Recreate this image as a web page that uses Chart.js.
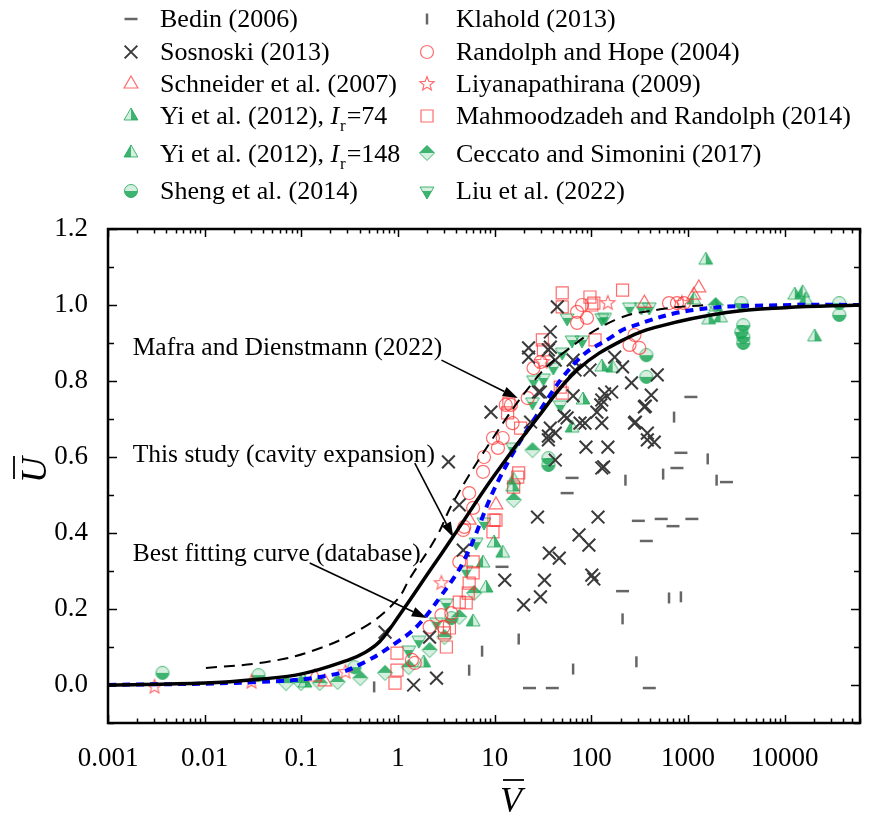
<!DOCTYPE html>
<html>
<head>
<meta charset="utf-8">
<script src="https://cdn.jsdelivr.net/npm/chart.js@4.4.1/dist/chart.umd.min.js"></script>
<style>
  body { margin: 0; background: #fff; }
  #wrap { width: 871px; height: 816px; position: relative; }
</style>
</head>
<body>
<div id="wrap"><canvas id="myChart"></canvas></div>
<script>
// ---- data: [V, U] ----
var bedin = [[1069,0.758],[843,0.611],[767,0.571],[2495,0.534],[63.1,0.545],[56.1,0.505],[306,0.432],[527,0.437],[698,0.418],[1094,0.437],[370,0.379],[11.9,0.311],[210,0.247],[22.9,-0.008],[39.4,-0.008],[397,-0.008]];
var klahold = [[716,0.705],[1596,0.595],[552,0.555],[225,0.539],[1972,0.539],[635,0.229],[843,0.232],[210,0.174],[17.7,0.121],[7.40,0.089],[5.44,0.039],[64.7,0.042],[292,0.061],[0.566,-0.005]];
var sosnoski = [[9.14,0.718],[3.32,0.587],[4.30,0.474],[4.73,0.355],[27.7,0.442],[117,0.442],[74.5,0.395],[94.2,0.368],[36.7,0.347],[46.5,0.334],[12.7,0.276],[32.7,0.276],[106,0.279],[29.7,0.232],[19.9,0.211],[2.50,0.018],[1.45,0.0],[0.734,0.139],[2.12,0.126],[134,0.574],[87.9,0.626],[148,0.626],[35.9,0.655],[42.3,0.592],[76.2,0.689],[128,0.689],[285,0.692],[416,0.763],[361,0.734],[379,0.645],[447,0.639],[125,0.737],[137,0.766],[52.3,0.708],[37.6,0.676],[28.3,0.771],[64.7,0.761],[260,0.795],[44.4,0.995],[37.6,0.929],[37.6,0.889],[42.3,0.855],[64.7,0.855],[67.8,0.829],[96.6,0.829],[174,0.863],[210,0.837],[480,0.816],[162,0.771],[128,0.750],[114,0.718],[353,0.732],[279,0.689],[85.8,0.689],[56.1,0.703],[42.3,0.663],[379,0.663],[22.4,0.887],[22.4,0.863],[35.9,0.882],[29.7,0.771],[23.5,0.692],[35.9,0.645],[128,0.571],[101,0.289]];
var randolph = [[13.0,0.737],[9.59,0.650],[12.1,0.650],[10.8,0.624],[7.75,0.600],[7.57,0.561],[5.44,0.505],[5.98,0.466],[4.73,0.408],[4.30,0.324],[2.81,0.184],[2.95,0.153],[71.1,0.982],[80.0,1.0],[25.2,0.834],[21.9,0.755],[14.7,0.737],[15.3,0.689],[4.84,0.416],[71.1,0.953],[279,0.921],[248,0.895],[313,0.887],[635,1.005],[767,1.005],[906,1.005],[29.7,0.850],[2.12,0.153],[3.56,0.189],[1.49,0.058],[1.39,0.066],[90,0.966]];
var schneider = [[0.138,0.021],[0.175,0.008],[1291,1.045],[1146,1.026],[10.3,0.474],[353,1.005],[5.44,0.434]];
var liyana = [[0.00303,-0.005],[0.0305,0.008],[0.286,0.034],[2.81,0.268],[148,1.005],[31.1,0.850],[863,1.005]];
var mahmood = [[31.1,0.908],[31.9,0.882],[14.0,0.742],[13.6,0.716],[49.9,1.032],[49.9,0.995],[96.6,1.021],[101,1.0],[18.5,0.676],[17.7,0.558],[10.3,0.434],[5.98,0.324],[17.3,0.547],[15.7,0.521],[9.82,0.434],[9.59,0.403],[5.98,0.295],[4.30,0.218],[3.40,0.150],[3.16,0.100],[210,1.039],[47.6,0.784],[49.9,0.768],[109,0.908],[0.975,0.084],[0.93,0.005],[0.975,0.039],[3.02,0.137],[5.07,0.216],[5.32,0.242],[5.44,0.268],[106,1.005]];
var yi74 = [[1521,1.118],[12680,1.026],[1928,0.995],[1633,0.961],[20320,0.916],[128,0.837],[81.8,0.750],[15.3,0.521],[9.82,0.374],[8.13,0.255],[0.109,0.005],[1.84,0.058]];
var yi148 = [[15310,1.032],[16440,1.013],[2167,0.966],[1146,1.013],[166,0.834],[63.1,0.676],[12.1,0.347],[7.57,0.321],[5.98,0.166],[15.7,0.539]];
var sheng = [[0.00366,0.032],[0.036,0.026],[0.354,0.047],[3.56,0.176],[3555,1.005],[3724,0.947],[3555,0.929],[3724,0.916],[3724,0.900],[36640,1.005],[36640,0.974],[370,0.868],[370,0.811],[35.9,0.597],[35.9,0.579]];
var ceccato = [[0.0695,0.005],[0.099,0.005],[0.155,0.005],[0.237,0.008],[0.407,0.018],[0.734,0.032],[1.29,0.047],[2.12,0.092],[3.02,0.126],[4.30,0.179],[6.12,0.242],[15.7,0.487],[24.6,0.618],[1928,1.0]];
var liu = [[248,0.995],[329,0.995],[397,0.995],[56.1,0.966],[80.0,0.908],[49.9,0.876],[128,0.966],[40.4,0.837],[31.9,0.808],[47.6,0.737],[24.6,0.745],[25.2,0.803],[63.1,0.908],[137,0.968],[15.3,0.626],[7.75,0.429],[5.07,0.303],[6.42,0.376],[3.16,0.216],[1.29,0.092],[1.64,0.118],[2.50,0.166]];

// curves
var thisStudy = [[0.001,0],[0.01,0.005],[0.036,0.015],[0.104,0.03],[0.30,0.065],[0.45,0.085],[0.65,0.115],[1.04,0.185],[2.12,0.30],[3.7,0.39],[9.6,0.547],[28,0.705],[72,0.83],[220,0.91],[527,0.945],[2495,0.98],[10000,0.993],[60000,1.0]];
var mafra = [[0.0103,0.045],[0.0424,0.06],[0.138,0.092],[0.45,0.153],[0.975,0.224],[1.32,0.28],[2.5,0.39],[3.7,0.48],[9.6,0.65],[24.6,0.795],[45,0.863],[174,0.96],[560,0.99],[1500,1.0]];
var bestFit = [[0.001,0],[0.036,0.008],[0.2,0.026],[0.45,0.06],[0.975,0.113],[1.55,0.153],[2.7,0.23],[4.84,0.329],[11,0.54],[28.3,0.716],[72,0.855],[162,0.916],[236,0.94],[1146,0.987],[11800,1.0],[60000,1.0]];

var xTicks = [0.001, 0.01, 0.1, 1, 10, 100, 1000, 10000];
var xTickLabels = ['0.001', '0.01', '0.1', '1', '10', '100', '1000', '10000'];
var yTicks = [0, 0.2, 0.4, 0.6, 0.8, 1.0, 1.2];
var yTickLabels = ['0.0', '0.2', '0.4', '0.6', '0.8', '1.0', '1.2'];

var seriesNames = ['Bedin (2006)', 'Klahold (2013)', 'Sosnoski (2013)', 'Randolph and Hope (2004)',
  'Schneider et al. (2007)', 'Liyanapathirana (2009)', 'Yi et al. (2012), {I}{r}=74',
  'Mahmoodzadeh and Randolph (2014)', 'Yi et al. (2012), {I}{r}=148', 'Ceccato and Simonini (2017)',
  'Sheng et al. (2014)', 'Liu et al. (2022)'];
var curveNames = ['This study (cavity expansion)', 'Mafra and Dienstmann (2022)', 'Best fitting curve (database)'];

var SERIF = '"Liberation Serif", "Times New Roman", serif';
var RED = 'rgba(255,45,45,0.7)';
var GREEN = 'rgba(25,165,85,0.8)';
var GREEN_LIGHT = 'rgba(25,165,85,0.18)';

function toXY(arr) { return arr.map(function (p) { return {x: p[0], y: p[1]}; }); }

// little canvases for the half-filled / star markers
function marker(size, draw) {
  var c = document.createElement('canvas');
  c.width = size; c.height = size;
  var g = c.getContext('2d');
  draw(g, size / 2);
  return c;
}
function poly(g, pts) {
  g.beginPath(); g.moveTo(pts[0][0], pts[0][1]);
  for (var i = 1; i < pts.length; i++) g.lineTo(pts[i][0], pts[i][1]);
  g.closePath();
}
function halfTri(leftFilled) {
  return marker(20, function (g, c) {
    var r = 8, top = [c, c - r], bl = [c - r * 0.866, c + r / 2], br = [c + r * 0.866, c + r / 2], bm = [c, c + r / 2];
    poly(g, [top, bl, br]); g.fillStyle = GREEN_LIGHT; g.fill();
    poly(g, leftFilled ? [top, bl, bm] : [top, bm, br]); g.fillStyle = GREEN; g.fill();
    poly(g, [top, bl, br]); g.strokeStyle = GREEN; g.lineWidth = 1; g.stroke();
  });
}
var ptYi74 = halfTri(false);
var ptYi148 = halfTri(true);
var ptSheng = marker(16, function (g, c) {
  var r = 6.5;
  g.beginPath(); g.arc(c, c, r, 0, Math.PI); g.closePath(); g.fillStyle = GREEN; g.fill();
  g.beginPath(); g.arc(c, c, r, 0, Math.PI * 2); g.fillStyle = GREEN_LIGHT; g.fill();
  g.strokeStyle = GREEN; g.lineWidth = 1; g.stroke();
});
var ptCeccato = marker(18, function (g, c) {
  var r = 7.5;
  poly(g, [[c, c - r], [c + r, c], [c, c + r], [c - r, c]]); g.fillStyle = GREEN_LIGHT; g.fill();
  poly(g, [[c, c - r], [c + r, c], [c - r, c]]); g.fillStyle = GREEN; g.fill();
  poly(g, [[c, c - r], [c + r, c], [c, c + r], [c - r, c]]); g.strokeStyle = GREEN; g.lineWidth = 1; g.stroke();
});
var ptLiu = marker(20, function (g, c) {
  var r = 8;
  var tl = [c - r * 0.866, c - r / 2], tr = [c + r * 0.866, c - r / 2], tip = [c, c + r];
  poly(g, [tl, tr, tip]); g.fillStyle = GREEN_LIGHT; g.fill();
  poly(g, [[c - r * 0.577, c], [c + r * 0.577, c], tip]); g.fillStyle = GREEN; g.fill();
  poly(g, [tl, tr, tip]); g.strokeStyle = GREEN; g.lineWidth = 1; g.stroke();
});
var ptStar = marker(18, function (g, c) {
  var pts = [];
  for (var i = 0; i < 10; i++) {
    var rr = i % 2 === 0 ? 7.5 : 3.2;
    var a = -Math.PI / 2 + i * Math.PI / 5;
    pts.push([c + rr * Math.cos(a), c + rr * Math.sin(a)]);
  }
  poly(g, pts); g.strokeStyle = RED; g.lineWidth = 1.1; g.stroke();
});

function scatterSet(name, arr, style) {
  return Object.assign({
    label: name, data: toXY(arr), showLine: false, order: 1,
    backgroundColor: 'rgba(0,0,0,0)', pointBorderWidth: 1.2, pointRotation: 0
  }, style);
}

var datasets = [
  {label: curveNames[0], data: toXY(thisStudy), showLine: true, pointRadius: 0, borderColor: '#000', borderWidth: 3.5, tension: 0.4, order: 0},
  {label: curveNames[1], data: toXY(mafra), showLine: true, pointRadius: 0, borderColor: '#000', borderWidth: 2, borderDash: [11, 7], tension: 0.4, order: 0},
  {label: curveNames[2], data: toXY(bestFit), showLine: true, pointRadius: 0, borderColor: '#0000ff', borderWidth: 4, borderDash: [8, 6], tension: 0.4, order: 0},
  scatterSet(seriesNames[0], bedin, {pointStyle: 'line', pointRadius: 6.5, borderColor: '#666', pointBorderWidth: 2.5}),
  scatterSet(seriesNames[1], klahold, {pointStyle: 'line', pointRadius: 5.5, pointRotation: 90, borderColor: '#666', pointBorderWidth: 2.5}),
  scatterSet(seriesNames[2], sosnoski, {pointStyle: 'crossRot', pointRadius: 9, borderColor: '#3a3a3a', pointBorderWidth: 2}),
  scatterSet(seriesNames[3], randolph, {pointStyle: 'circle', pointRadius: 6.5, borderColor: RED}),
  scatterSet(seriesNames[4], schneider, {pointStyle: 'triangle', pointRadius: 8, borderColor: RED}),
  scatterSet(seriesNames[5], liyana, {pointStyle: ptStar, pointRadius: 7, borderColor: RED}),
  scatterSet(seriesNames[6], yi74, {pointStyle: ptYi74, pointRadius: 8, borderColor: GREEN}),
  scatterSet(seriesNames[7], mahmood, {pointStyle: 'rect', pointRadius: 8.5, borderColor: RED}),
  scatterSet(seriesNames[8], yi148, {pointStyle: ptYi148, pointRadius: 8, borderColor: GREEN}),
  scatterSet(seriesNames[9], ceccato, {pointStyle: ptCeccato, pointRadius: 8, borderColor: GREEN}),
  scatterSet(seriesNames[10], sheng, {pointStyle: ptSheng, pointRadius: 7, borderColor: GREEN}),
  scatterSet(seriesNames[11], liu, {pointStyle: ptLiu, pointRadius: 8, borderColor: GREEN})
];

// legend drawn by hand: two columns like the original
function richText(ctx, str, x, y, size) {
  var parts = str.split(/(\{I\}|\{r\})/);
  parts.forEach(function (p) {
    if (!p) return;
    if (p === '{I}') { ctx.font = 'italic ' + size + 'px ' + SERIF; ctx.fillText('I', x, y); x += ctx.measureText('I').width + 1; }
    else if (p === '{r}') { ctx.font = (size * 0.65) + 'px ' + SERIF; ctx.fillText('r', x, y + 7); x += ctx.measureText('r').width + 1; }
    else { ctx.font = size + 'px ' + SERIF; ctx.fillText(p, x, y); x += ctx.measureText(p).width; }
  });
}

function arrow(ctx, x0, y0, x1, y1) {
  var a = Math.atan2(y1 - y0, x1 - x0), L = 15, W = 5;
  ctx.beginPath(); ctx.moveTo(x0, y0);
  ctx.lineTo(x1 - L * Math.cos(a), y1 - L * Math.sin(a)); ctx.stroke();
  ctx.beginPath();
  ctx.moveTo(x1, y1);
  ctx.lineTo(x1 - L * Math.cos(a) + W * Math.sin(a), y1 - L * Math.sin(a) - W * Math.cos(a));
  ctx.lineTo(x1 - L * Math.cos(a) - W * Math.sin(a), y1 - L * Math.sin(a) + W * Math.cos(a));
  ctx.closePath(); ctx.fill();
}

// annotation anchors in data units: [textV, textU, arrowFromV, arrowFromU, arrowToV, arrowToU]
var notes = [
  [0.0018, 0.885, 2.81, 0.855, 17.3, 0.755],
  [0.0018, 0.605, 1.49, 0.584, 3.73, 0.389],
  [0.0018, 0.345, 0.122, 0.321, 1.98, 0.176]
];
var noteNames = [curveNames[1], curveNames[0], curveNames[2]];

var decor = {
  id: 'decor',
  afterDraw: function (chart) {
    var ctx = chart.ctx, a = chart.chartArea, x = chart.scales.x, y = chart.scales.y;
    ctx.save();
    ctx.strokeStyle = '#000'; ctx.fillStyle = '#000';
    // inward ticks, all four sides
    ctx.lineWidth = 1.5;
    function seg(x0, y0, x1, y1) { ctx.beginPath(); ctx.moveTo(x0, y0); ctx.lineTo(x1, y1); ctx.stroke(); }
    for (var d = -3; d <= 4; d++) {
      for (var k = 1; k <= 9; k++) {
        var v = k * Math.pow(10, d);
        if (v > x.max) break;
        var px = Math.round(x.getPixelForValue(v)) + 0.5, len = k === 1 ? 8 : 4.5;
        seg(px, a.bottom, px, a.bottom - len);
        seg(px, a.top, px, a.top + len);
      }
    }
    for (var t = -1; t <= 12; t++) {
      var py = Math.round(y.getPixelForValue(t / 10)) + 0.5, ln = t % 2 === 0 ? 9 : 6;
      seg(a.left, py, a.left + ln, py);
      seg(a.right, py, a.right - ln, py);
    }
    ctx.lineWidth = 2.5;
    ctx.strokeRect(a.left, a.top, a.right - a.left, a.bottom - a.top);

    // axis titles with overbars
    ctx.font = 'italic 36px ' + SERIF;
    ctx.textBaseline = 'alphabetic'; ctx.textAlign = 'center';
    var xc = 511, xb = 812;
    ctx.fillText('V', xc, xb);
    ctx.lineWidth = 1.8;
    seg(xc - 8, xb - 32, xc + 13, xb - 32);
    ctx.save();
    ctx.translate(46, 470); ctx.rotate(-Math.PI / 2);
    ctx.fillText('U', 0, 0);
    seg(-9, -32, 14, -32);
    ctx.restore();

    // annotations
    ctx.textAlign = 'left'; ctx.textBaseline = 'middle';
    ctx.font = '25.5px ' + SERIF;
    ctx.lineWidth = 1.6;
    notes.forEach(function (n, i) {
      ctx.fillText(noteNames[i], x.getPixelForValue(n[0]), y.getPixelForValue(n[1]));
      arrow(ctx, x.getPixelForValue(n[2]), y.getPixelForValue(n[3]), x.getPixelForValue(n[4]), y.getPixelForValue(n[5]));
    });

    // legend
    var colMark = [131, 427], colText = [160, 456];
    var rowMark = [19, 52, 84, 116, 153, 191];
    var rowBase = [27, 60, 92, 124, 162, 199];
    ctx.textBaseline = 'alphabetic';
    for (var i = 0; i < seriesNames.length; i++) {
      var col = i % 2, row = Math.floor(i / 2);
      var ds = chart.data.datasets[i + 3];
      ctx.save();
      ctx.strokeStyle = ds.borderColor; ctx.fillStyle = ds.backgroundColor; ctx.lineWidth = ds.pointBorderWidth;
      Chart.helpers.drawPoint(ctx, {pointStyle: ds.pointStyle, radius: ds.pointRadius, rotation: ds.pointRotation, borderWidth: ds.pointBorderWidth}, colMark[col], rowMark[row]);
      ctx.restore();
      ctx.fillStyle = '#000';
      richText(ctx, seriesNames[i], colText[col], rowBase[row], 26);
    }
    ctx.restore();
  }
};

new Chart('myChart', {
  type: 'scatter',
  data: {datasets: datasets},
  options: {
    responsive: true,
    maintainAspectRatio: false,
    animation: false,
    layout: {padding: {top: 229, right: 3, left: 0, bottom: 0}},
    plugins: {legend: {display: false}, tooltip: {enabled: false}},
    scales: {
      x: {
        type: 'logarithmic', min: 0.001, max: 60000,
        grid: {display: false}, border: {display: false},
        afterBuildTicks: function (s) { s.ticks = xTicks.map(function (v) { return {value: v}; }); },
        afterFit: function (s) { s.height = 93; },
        ticks: {
          autoSkip: false, maxRotation: 0, padding: 12, color: '#000',
          font: {family: SERIF, size: 27},
          callback: function (v) { var i = xTicks.indexOf(v); return i < 0 ? '' : xTickLabels[i]; }
        }
      },
      y: {
        type: 'linear', min: -0.1, max: 1.2,
        grid: {display: false}, border: {display: false},
        afterBuildTicks: function (s) { s.ticks = yTicks.map(function (v) { return {value: v}; }); },
        afterFit: function (s) { s.width = 108; },
        ticks: {
          padding: 12, color: '#000',
          font: {family: SERIF, size: 27},
          callback: function (v) { var i = yTicks.indexOf(v); return i < 0 ? '' : yTickLabels[i]; }
        }
      }
    }
  },
  plugins: [decor]
});
</script>
</body>
</html>
